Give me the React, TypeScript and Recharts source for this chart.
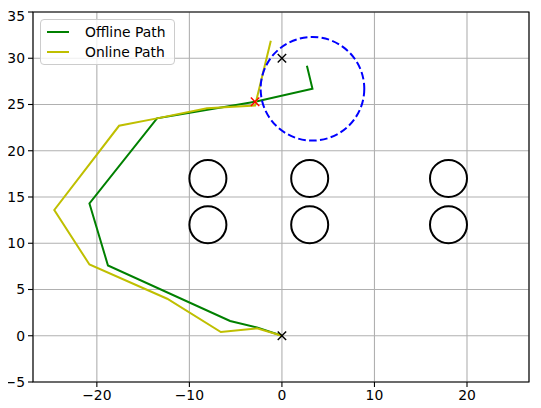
import React from "react";
import {
  ComposedChart,
  Line,
  Scatter,
  XAxis,
  YAxis,
  CartesianGrid,
  ReferenceArea,
} from "recharts";

// paths, start point first
const offlinePath = [
  { x: 0, y: 0 },
  { x: -2.7, y: 0.9 },
  { x: -5.6, y: 1.6 },
  { x: -18.8, y: 7.6 },
  { x: -20.8, y: 14.3 },
  { x: -13.5, y: 23.5 },
  { x: -2.9, y: 25.3 },
  { x: 3.3, y: 26.7 },
  { x: 2.7, y: 29.2 },
];

const onlinePath = [
  { x: 0, y: 0 },
  { x: -2.7, y: 0.8 },
  { x: -6.6, y: 0.4 },
  { x: -12.4, y: 4.0 },
  { x: -20.8, y: 7.7 },
  { x: -24.6, y: 13.6 },
  { x: -17.6, y: 22.7 },
  { x: -13.5, y: 23.5 },
  { x: -8.1, y: 24.6 },
  { x: -2.9, y: 24.9 },
  { x: -1.2, y: 31.9 },
];

const obstacles = [
  { x: -8, y: 17, r: 2 },
  { x: 3, y: 17, r: 2 },
  { x: 18, y: 17, r: 2 },
  { x: -8, y: 12, r: 2 },
  { x: 3, y: 12, r: 2 },
  { x: 18, y: 12, r: 2 },
];

const sensorRange = [{ x: 3.3, y: 26.7, r: 5.6 }];

const blackMarks = [
  { x: 0, y: 0 },
  { x: 0, y: 30 },
];
const redMarks = [{ x: -2.9, y: 25.3 }];

const legendItems = [
  { name: "Offline Path", color: "#008000" },
  { name: "Online Path", color: "#bfbf00" },
];

const xTicks = [-20, -10, 0, 10, 20];
const yTicks = [-5, 0, 5, 10, 15, 20, 25, 30, 35];
const xDomain: [number, number] = [-26.9, 26.7];
const yDomain: [number, number] = [-5, 35];

const W = 533;
const H = 400;
const margin = { top: 4, right: 4, left: 8, bottom: 0 };
const yAxisW = 25;
const xAxisH = 26;
// data units -> pixels (axes are equal scale)
const ppu = (W - margin.left - margin.right - yAxisW) / (xDomain[1] - xDomain[0]);

const FONT = "'DejaVu Sans', sans-serif";
const fmt = (v: number) => String(v).replace("-", "\u2212");

const ringShape = (color: string, dash?: string) => (props: any) => {
  const { cx, cy, payload } = props;
  return (
    <circle
      cx={cx}
      cy={cy}
      r={payload.r * ppu}
      fill="none"
      stroke={color}
      strokeWidth={2}
      strokeDasharray={dash}
    />
  );
};

const crossShape = (color: string) => (props: any) => {
  const { cx, cy } = props;
  const s = 4.2;
  return (
    <g stroke={color} strokeWidth={1.4}>
      <line x1={cx - s} y1={cy - s} x2={cx + s} y2={cy + s} />
      <line x1={cx - s} y1={cy + s} x2={cx + s} y2={cy - s} />
    </g>
  );
};

const LegendBox = () => (
  <div
    style={{
      position: "absolute",
      left: 40,
      top: 11,
      border: "1px solid #cccccc",
      borderRadius: 4,
      background: "rgba(255,255,255,0.8)",
      padding: "2px 8px 2px 6px",
      fontFamily: FONT,
      fontSize: 13.9,
      color: "#000",
      lineHeight: "20px",
    }}
  >
    {legendItems.map((d) => (
      <div key={d.name} style={{ display: "flex", alignItems: "center" }}>
        <span
          style={{
            display: "inline-block",
            width: 22,
            height: 2,
            background: d.color,
            marginRight: 16,
          }}
        />
        {d.name}
      </div>
    ))}
  </div>
);

export default function App() {
  return (
    <div style={{ height: 392, marginLeft: -8, position: "relative" }}>
      <ComposedChart width={W} height={H} margin={margin}>
        <CartesianGrid stroke="#b0b0b0" strokeWidth={1.1} />
        <XAxis
          type="number"
          dataKey="x"
          domain={xDomain}
          ticks={xTicks}
          allowDataOverflow
          height={xAxisH}
          axisLine={false}
          tickLine={{ stroke: "#000", strokeWidth: 1.1 }}
          tickSize={5}
          tickMargin={3}
          tickFormatter={fmt}
          tick={{ fill: "#000", fontSize: 13.9, fontFamily: FONT }}
        />
        <YAxis
          type="number"
          dataKey="y"
          domain={yDomain}
          ticks={yTicks}
          allowDataOverflow
          width={yAxisW}
          axisLine={false}
          tickLine={{ stroke: "#000", strokeWidth: 1.1 }}
          tickSize={5}
          tickMargin={3}
          tickFormatter={fmt}
          tick={{ fill: "#000", fontSize: 13.9, fontFamily: FONT }}
        />
        <ReferenceArea
          x1={xDomain[0]}
          x2={xDomain[1]}
          y1={yDomain[0]}
          y2={yDomain[1]}
          fill="none"
          fillOpacity={0}
          stroke="#000"
          strokeWidth={1.1}
          ifOverflow="visible"
        />
        <Line
          data={offlinePath}
          dataKey="y"
          type="linear"
          stroke="#008000"
          strokeWidth={2}
          dot={false}
          activeDot={false}
          isAnimationActive={false}
        />
        <Line
          data={onlinePath}
          dataKey="y"
          type="linear"
          stroke="#bfbf00"
          strokeWidth={2}
          dot={false}
          activeDot={false}
          isAnimationActive={false}
        />
        <Scatter
          data={obstacles}
          dataKey="y"
          shape={ringShape("#000")}
          isAnimationActive={false}
        />
        <Scatter
          data={sensorRange}
          dataKey="y"
          shape={ringShape("#0000ff", "7.7 3.3")}
          isAnimationActive={false}
        />
        <Scatter
          data={blackMarks}
          dataKey="y"
          shape={crossShape("#000")}
          isAnimationActive={false}
        />
        <Scatter
          data={redMarks}
          dataKey="y"
          shape={crossShape("#ff0000")}
          isAnimationActive={false}
        />
      </ComposedChart>
      <LegendBox />
    </div>
  );
}
